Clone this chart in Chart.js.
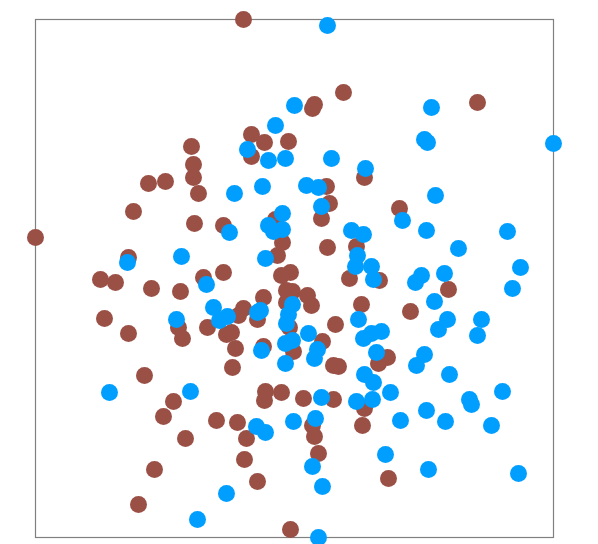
<!DOCTYPE html>
<html>
<head>
<meta charset="utf-8">
<script src="https://cdn.jsdelivr.net/npm/chart.js@4"></script>
<style>
html, body { margin: 0; padding: 0; background: #fff; }
#wrap { width: 598px; height: 544px; }
</style>
</head>
<body>
<div id="wrap"><canvas id="myChart"></canvas></div>
<script>
// brown series
const brownX = [208,308,279,277,442,216,229,253,156,216,158,158,113,130,163,329,291,294,286,364,98,159,188,240,0,247,242,292,321,93,168,188,255,246,314,344,65,80,116,145,413,228,251,257,251,272,276,208,203,222,326,375,69,93,143,147,172,191,196,254,300,200,228,258,287,197,298,303,352,343,109,230,246,229,268,298,138,329,128,181,202,277,327,150,211,279,283,209,119,222,353,103,255];
const brownY = [518,445,433,429,435,403,395,396,391,381,373,360,354,356,344,360,351,334,319,329,326,314,312,318,300,295,282,290,291,280,260,265,265,262,259,257,258,255,249,246,248,240,247,246,235,242,232,229,222,218,233,226,219,204,210,199,210,203,205,210,213,189,191,186,196,170,172,171,180,174,162,146,145,137,139,138,136,129,121,117,115,112,112,99,99,101,84,78,68,56,59,33,8];

// blue series
const blueX = [292,259,396,240,389,392,518,212,233,250,296,330,199,227,271,283,400,286,247,367,233,238,247,194,316,328,391,472,423,146,92,230,322,320,336,485,409,386,338,380,171,477,399,257,178,225,222,253,192,184,141,323,412,446,251,403,346,336,273,442,328,257,250,226,282,341,279,389,250,381,329,414,338,155,74,355,467,286,321,337,434,436,391,280,258,365,410,456,221,230,350,277,393,483,287,191,162,283];
const blueY = [512,432,430,412,398,395,394,388,377,379,379,369,344,351,352,350,342,331,324,317,312,306,308,305,307,303,307,306,289,281,275,279,282,271,271,270,264,262,258,255,253,249,236,233,230,227,225,223,221,217,218,218,218,218,214,208,206,204,204,202,199,197,194,187,188,185,179,183,174,172,163,163,155,146,145,145,146,140,136,138,138,133,127,119,116,117,116,112,111,105,83,71,68,64,51,44,18,0];

const xMin = 0, xMax = 518, yMin = 0, yMax = 518;

function toPoints(xs, ys) {
    return xs.map((x, i) => ({ x: x, y: ys[i] }));
}

// box round the plot area, there are no ticks or grid
const frame = {
    id: 'frame',
    beforeDatasetsDraw(chart) {
        const a = chart.chartArea, ctx = chart.ctx;
        ctx.save();
        ctx.strokeStyle = '#808080';
        ctx.lineWidth = 1.2;
        ctx.strokeRect(a.left, a.top, a.width, a.height);
        ctx.restore();
    }
};

new Chart(document.getElementById('myChart'), {
    type: 'scatter',
    data: {
        datasets: [
            { label: 'brown', data: toPoints(brownX, brownY), backgroundColor: '#9b5046', pointRadius: 8.5, pointBorderWidth: 0, clip: false, order: 2 },
            { label: 'blue', data: toPoints(blueX, blueY), backgroundColor: '#009fff', pointRadius: 8.5, pointBorderWidth: 0, clip: false, order: 1 }
        ]
    },
    options: {
        responsive: true,
        maintainAspectRatio: false,
        animation: false,
        layout: { autoPadding: false, padding: { left: 35.5, right: 44.5, top: 19.5, bottom: 6.5 } },
        plugins: { legend: { display: false }, tooltip: { enabled: false } },
        scales: {
            x: { type: 'linear', min: xMin, max: xMax, display: false },
            y: { type: 'linear', min: yMin, max: yMax, display: false }
        }
    },
    plugins: [frame]
});
</script>
</body>
</html>
